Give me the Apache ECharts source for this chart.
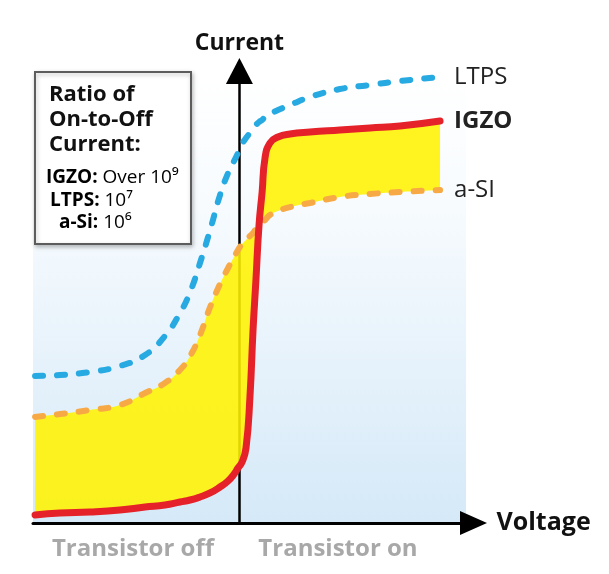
<!DOCTYPE html>
<html><head><meta charset="utf-8">
<script src="https://cdn.jsdelivr.net/npm/echarts@6/dist/echarts.min.js"></script>
<style>html,body{margin:0;padding:0;background:#fff}#c{width:609px;height:574px}</style>
</head><body><div id="c"></div>
<script>
// Gate voltage (arbitrary units, 0 = threshold / current axis)
const voltage = [-9.90,-8.69,-7.24,-5.79,-4.57,-3.61,-2.88,-2.39,-1.91,-1.42,-0.94,-0.55,-0.26,-0.07,0.13,0.32,0.51,0.66,0.80,0.95,1.10,1.24,1.48,1.87,2.45,3.42,4.87,6.33,7.78,9.72];
// Current (arbitrary units)
const igzo = [1.65,2.06,2.27,2.68,3.30,3.71,4.33,4.74,5.36,6.19,7.42,8.66,10.10,11.34,12.58,15.46,25.98,39.79,50.10,61.44,68.25,75.26,78.35,79.59,80.21,80.62,81.03,81.44,81.86,82.89];
const aSi = [21.86,22.47,23.30,24.33,26.80,28.87,31.55,34.43,38.76,44.54,49.28,52.58,54.85,56.29,57.53,58.35,59.18,59.79,60.62,61.24,61.86,62.47,63.51,64.33,65.15,65.98,67.22,67.84,68.25,68.66];
const ltps = [30.31,30.52,31.13,32.37,34.64,38.56,43.30,47.63,53.61,60.41,67.63,72.16,74.64,76.29,78.14,79.38,80.41,81.24,82.06,82.68,83.09,83.71,84.33,85.15,86.19,87.84,89.48,90.31,91.13,91.96];
const seriesNames = {ltps:'LTPS', igzo:'IGZO', aSi:'a-SI'};
const axisNames = {x:'Voltage', y:'Current'};
const regionLabels = ['Transistor off', 'Transistor on'];
const boxTitle = ['Ratio of', 'On-to-Off', 'Current:'];
const ratioRows = [
  {name:'IGZO:', value:'Over 10\u2079'},
  {name:'LTPS:', value:'10\u2077'},
  {name:'a-Si:', value:'10\u2076'}
];
const xRange = [-10, 11.34];
const yRange = [0, 93.2];
const bgRange = [-10, 10.98];

const SMOOTH = 0.5;
const pairs = arr => voltage.map((v, i) => [v, arr[i]]);

// smooth bezier path through pixel points (same scheme as ECharts line smoothing)
function smoothPath(pts, first) {
  const out = [];
  const n = pts.length;
  let c0x = 0, c0y = 0;
  for (let i = 0; i < n; i++) {
    const p = pts[i], a = pts[Math.max(0, i - 1)], b = pts[Math.min(n - 1, i + 1)];
    const vx = b[0] - a[0], vy = b[1] - a[1];
    const l0 = Math.hypot(p[0] - a[0], p[1] - a[1]);
    const l1 = Math.hypot(b[0] - p[0], b[1] - p[1]);
    const r = (l0 + l1) > 0 ? l1 / (l0 + l1) : 0.5;
    const c1x = p[0] - vx * SMOOTH * (1 - r), c1y = p[1] - vy * SMOOTH * (1 - r);
    if (i === 0) out.push((first ? 'M' : 'L') + p[0] + ' ' + p[1]);
    else out.push('C' + c0x + ' ' + c0y + ' ' + c1x + ' ' + c1y + ' ' + p[0] + ' ' + p[1]);
    c0x = p[0] + vx * SMOOTH * r; c0y = p[1] + vy * SMOOTH * r;
  }
  return out.join(' ');
}

const chart = echarts.init(document.getElementById('c'), null, {renderer:'canvas'});
const FONT = '"Open Sans", "DejaVu Sans", sans-serif';
const labelStyle = (bold) => ({show:true, formatter:'{a}', distance:14, fontSize:24, fontFamily:FONT, fontWeight: bold ? 'bold' : 'normal', color:'#222'});
const rowRich = {b:{fontSize:19, fontWeight:'bold', fontFamily:FONT, color:'#111'}, r:{fontSize:19, fontFamily:FONT, color:'#222'}};
const rowText = row => '{b|' + row.name + '}{r| ' + row.value + '}';

chart.setOption({
  animation:false,
  backgroundColor:'#fff',
  grid:{left:33, right:135.5, top:71, bottom:51, containLabel:false},
  xAxis:{type:'value', min:xRange[0], max:xRange[1], z:2,
    name:axisNames.x, nameLocation:'end', nameGap:23,
    nameTextStyle:{fontSize:25, fontWeight:'bold', fontFamily:FONT, color:'#111', verticalAlign:'middle', padding:[0,0,2,0]},
    axisLine:{show:true, onZero:false, symbol:['none','triangle'], symbolSize:[24,27], lineStyle:{color:'#000', width:3}},
    axisTick:{show:false}, axisLabel:{show:false}, splitLine:{show:false}},
  yAxis:{type:'value', min:yRange[0], max:yRange[1], z:2,
    name:axisNames.y, nameLocation:'end', nameGap:16,
    nameTextStyle:{fontSize:23, fontWeight:'bold', fontFamily:FONT, color:'#111', align:'center'},
    axisLine:{show:true, onZero:true, symbol:['none','triangle'], symbolSize:[27,26], lineStyle:{color:'#000', width:2.5}},
    axisTick:{show:false}, axisLabel:{show:false}, splitLine:{show:false}},
  graphic:[
    {type:'rect', z:100, shape:{x:35, y:72, width:156, height:172},
      style:{fill:'#fff', stroke:'#5c5c5c', lineWidth:2, shadowBlur:4, shadowOffsetX:1, shadowOffsetY:2, shadowColor:'rgba(0,0,0,0.25)'}},
    {type:'text', z:101, x:49, y:82, style:{text:boxTitle.join('\n'), font:'bold 22px ' + FONT, lineHeight:25, fill:'#111'}},
    {type:'text', z:101, x:46, y:168, style:{text:rowText(ratioRows[0]), rich:rowRich}},
    {type:'text', z:101, x:50, y:191, style:{text:rowText(ratioRows[1]), rich:rowRich}},
    {type:'text', z:101, x:59, y:213, style:{text:rowText(ratioRows[2]), rich:rowRich}},
    {type:'text', z:101, x:133, y:549, style:{text:regionLabels[0], font:'bold 24px ' + FONT, fill:'#a8a8a8', align:'center', verticalAlign:'middle'}},
    {type:'text', z:101, x:338, y:549, style:{text:regionLabels[1], font:'bold 24px ' + FONT, fill:'#a8a8a8', align:'center', verticalAlign:'middle'}}
  ],
  series:[
    {name:'background', type:'line', data:[], symbol:'none', silent:true, z:1,
      markArea:{silent:true, itemStyle:{color:new echarts.graphic.LinearGradient(0,0,0,1,[{offset:0,color:'#ffffff'},{offset:0.3,color:'#f7fbfe'},{offset:1,color:'#d5e9f8'}])},
        data:[[{xAxis:bgRange[0], yAxis:yRange[0]},{xAxis:bgRange[1], yAxis:yRange[1]}]]}},
    {name:'fill', type:'custom', coordinateSystem:'cartesian2d', silent:true, z:3,
      data:[[voltage[0], aSi[0]]],
      renderItem:function(params, api){
        const top = voltage.map((v, i) => api.coord([v, aSi[i]]));
        const bot = voltage.map((v, i) => api.coord([v, igzo[i]])).reverse();
        const d = smoothPath(top, true) + ' ' + smoothPath(bot, false) + ' Z';
        return {type:'path', shape:{pathData:d}, style:{fill:'#fff200', opacity:0.88, stroke:null}};
      }},
    {name:seriesNames.ltps, type:'line', data:pairs(ltps), smooth:SMOOTH, symbol:'none', z:4,
      lineStyle:{color:'#27a9e1', width:6, type:[8,14], cap:'round'}, endLabel:labelStyle(false)},
    {name:seriesNames.aSi, type:'line', data:pairs(aSi), smooth:SMOOTH, symbol:'none', z:5,
      lineStyle:{color:'#f7a946', width:6, type:[8,14], cap:'round'}, endLabel:labelStyle(false)},
    {name:seriesNames.igzo, type:'line', data:pairs(igzo), smooth:SMOOTH, symbol:'none', z:6,
      lineStyle:{color:'#e52229', width:7, cap:'round', join:'round'}, endLabel:labelStyle(true)}
  ]
});
</script></body></html>
